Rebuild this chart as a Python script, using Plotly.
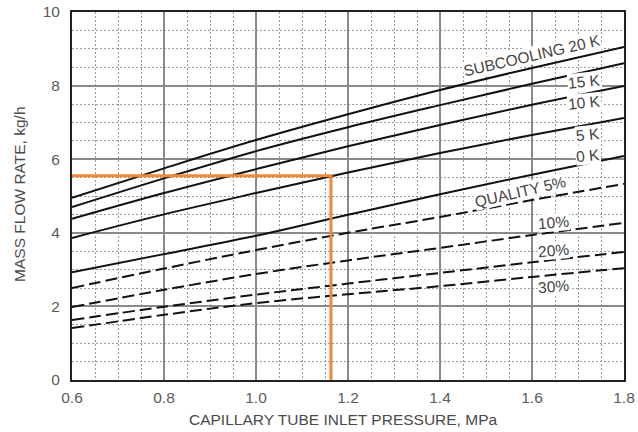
import plotly.graph_objects as go

pressure = [0.6, 0.8, 1.0, 1.2, 1.4, 1.6, 1.8]

sub_20k = [4.95, 5.75, 6.52, 7.22, 7.88, 8.48, 9.05]
sub_15k = [4.70, 5.48, 6.22, 6.87, 7.47, 8.05, 8.61]
sub_10k = [4.38, 5.08, 5.73, 6.35, 6.93, 7.48, 7.99]
sub_5k = [3.86, 4.50, 5.08, 5.64, 6.17, 6.66, 7.12]
sub_0k = [2.93, 3.42, 3.92, 4.49, 5.05, 5.58, 6.09]

q_5 = [2.50, 3.03, 3.53, 4.00, 4.43, 4.89, 5.33]
q_10 = [1.98, 2.45, 2.88, 3.25, 3.59, 3.94, 4.27]
q_20 = [1.63, 1.99, 2.32, 2.62, 2.91, 3.20, 3.48]
q_30 = [1.41, 1.77, 2.09, 2.33, 2.55, 2.80, 3.04]

op_pressure = 1.163
op_flow = 5.55

x_ticks = [0.6, 0.8, 1.0, 1.2, 1.4, 1.6, 1.8]
x_tick_labels = ["0.6", "0.8", "1.0", "1.2", "1.4", "1.6", "1.8"]
y_ticks = [0, 2, 4, 6, 8, 10]
y_tick_labels = ["0", "2", "4", "6", "8", "10"]

fig = go.Figure()

for ys in [sub_20k, sub_15k, sub_10k, sub_5k, sub_0k]:
    fig.add_trace(go.Scatter(x=pressure, y=ys, mode="lines", line_shape="spline",
                             line=dict(color="#111111", width=2), showlegend=False, hoverinfo="skip"))
for ys in [q_5, q_10, q_20, q_30]:
    fig.add_trace(go.Scatter(x=pressure, y=ys, mode="lines", line_shape="spline",
                             line=dict(color="#111111", width=2, dash="12px,5px"), showlegend=False, hoverinfo="skip"))

orange = "#F0883A"
fig.add_trace(go.Scatter(x=[0.6, op_pressure, op_pressure], y=[op_flow, op_flow, 0], mode="lines",
                         line=dict(color=orange, width=3), showlegend=False, hoverinfo="skip"))

font_family = "Liberation Sans, Arial, sans-serif"
txt_color = "#444444"
fs = 15.5

labels = [
    ("SUBCOOLING 20 K", 1.600, 8.81, -13),
    ("15 K", 1.715, 8.10, -6),
    ("10 K", 1.715, 7.53, -6),
    ("5 K", 1.722, 6.66, -6),
    ("0 K", 1.722, 6.11, -6),
    ("QUALITY 5%", 1.576, 5.11, -13),
    ("10%", 1.646, 4.27, -5),
    ("20%", 1.646, 3.53, -5),
    ("30%", 1.646, 2.55, -5),
]
for text, x, y, ang in labels:
    fig.add_annotation(x=x, y=y, xref="x", yref="y", text=text, showarrow=False,
                       textangle=ang, bgcolor="white", borderpad=0,
                       font=dict(family=font_family, size=fs, color=txt_color))

fig.add_annotation(x=0.491, y=0, xref="paper", yref="paper", yshift=-39, yanchor="middle",
                   text="CAPILLARY TUBE INLET PRESSURE, MPa", showarrow=False,
                   font=dict(family=font_family, size=fs, color="#4a4a4a"))
fig.add_annotation(x=0, y=0.503, xref="paper", yref="paper", xshift=-52, xanchor="center",
                   text="MASS FLOW RATE, kg/h", showarrow=False, textangle=-90,
                   font=dict(family=font_family, size=fs, color="#4a4a4a"))

fig.update_xaxes(
    range=[0.6, 1.8], tickvals=x_ticks, ticktext=x_tick_labels,
    showgrid=True, gridcolor="#8a8a8a", gridwidth=1.5,
    minor=dict(dtick=0.05, tick0=0.6, showgrid=True, gridcolor="#9a9a9a", gridwidth=1, griddash="2px,2px"),
    showline=True, linecolor="#222222", linewidth=2, mirror=True,
    ticks="outside", ticklen=2, tickcolor="rgba(0,0,0,0)", zeroline=False, automargin=False,
    tickfont=dict(family=font_family, size=fs, color="#5a5a5a"),
)
fig.update_yaxes(
    range=[0, 10], tickvals=y_ticks, ticktext=y_tick_labels,
    showgrid=True, gridcolor="#8a8a8a", gridwidth=1.5,
    minor=dict(dtick=0.5, tick0=0, showgrid=True, gridcolor="#9a9a9a", gridwidth=1, griddash="2px,2px"),
    showline=True, linecolor="#222222", linewidth=2, mirror=True,
    ticks="outside", ticklen=7, tickcolor="rgba(0,0,0,0)", zeroline=False, automargin=False,
    tickfont=dict(family=font_family, size=fs, color="#5a5a5a"),
)

fig.update_layout(
    width=638, height=432,
    margin=dict(l=72, r=14, t=12, b=52),
    plot_bgcolor="white", paper_bgcolor="white",
    font=dict(family=font_family),
)

fig.write_html("out.html", config={"displayModeBar": False},
               post_script="document.body.style.margin='0px';")
